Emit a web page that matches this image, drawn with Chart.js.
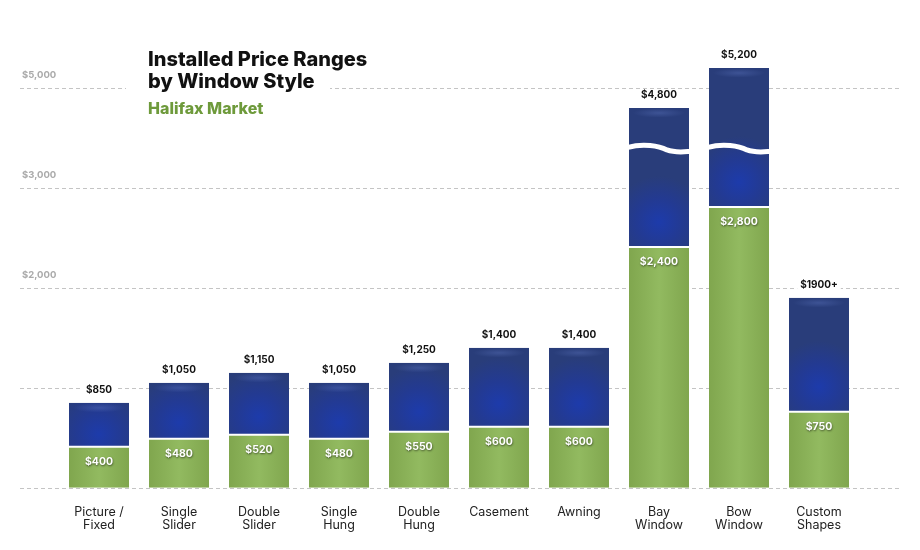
<!DOCTYPE html>
<html>
<head>
<meta charset="utf-8">
<script src="https://cdn.jsdelivr.net/npm/chart.js@4.4.1/dist/chart.umd.min.js"></script>
<style>
  html, body { margin: 0; padding: 0; background: #fff; }
  #wrap { width: 920px; height: 550px; position: relative; }
</style>
</head>
<body>
<div id="wrap"><canvas id="chart"></canvas></div>
<script>
var categories = [['Picture /', 'Fixed'], ['Single', 'Slider'], ['Double', 'Slider'], ['Single', 'Hung'], ['Double', 'Hung'],
    'Casement', 'Awning', ['Bay', 'Window'], ['Bow', 'Window'], ['Custom', 'Shapes']];
var lowPrices = [400, 480, 520, 480, 550, 600, 600, 2400, 2800, 750];
var highPrices = [850, 1050, 1150, 1050, 1250, 1400, 1400, 4800, 5200, 1900];
var lowLabels = ['$400', '$480', '$520', '$480', '$550', '$600', '$600', '$2,400', '$2,800', '$750'];
var highLabels = ['$850', '$1,050', '$1,150', '$1,050', '$1,250', '$1,400', '$1,400', '$4,800', '$5,200', '$1900+'];
var tickValues = [0, 1000, 2000, 3000, 5000];
var tickLabels = ['', '', '$2,000', '$3,000', '$5,000'];

// the axis is broken between 3,000 and 5,000: values past the break are drawn 1,000 lower
var breakAt = 3500;
var breakGap = 1000;
function toAxis(v) {
    return v > breakAt ? v - breakGap : v;
}

var greenData = lowPrices.map(function (v) { return [0, v]; });
var blueData = lowPrices.map(function (v, i) { return [v, toAxis(highPrices[i])]; });

function barBox(c) {
    var chart = c.chart;
    if (!chart.chartArea || !c.raw) return null;
    var x = chart.scales.x.getPixelForValue(c.dataIndex);
    var y0 = chart.scales.y.getPixelForValue(c.raw[0]);
    var y1 = chart.scales.y.getPixelForValue(c.raw[1]);
    return { x: x, top: Math.min(y0, y1), bottom: Math.max(y0, y1) };
}

function blueFill(c) {
    var b = barBox(c);
    if (!b) return '#283d7c';
    var h = b.bottom - b.top;
    var cy = b.bottom - Math.min(h * 0.3, 26);
    var g = c.chart.ctx.createRadialGradient(b.x, cy, 0, b.x, cy, 46);
    g.addColorStop(0, '#1d3bab');
    g.addColorStop(0.5, '#233a92');
    g.addColorStop(1, '#293d7a');
    return g;
}

function greenFill(c) {
    var b = barBox(c);
    if (!b) return '#8cb55a';
    var g = c.chart.ctx.createLinearGradient(b.x - 30, 0, b.x + 30, 0);
    g.addColorStop(0, '#80a64e');
    g.addColorStop(0.5, '#92ba60');
    g.addColorStop(1, '#80a64e');
    return g;
}

var decor = {
    id: 'decor',
    beforeDatasetsDraw: function (chart) {
        var ctx = chart.ctx;
        var y = chart.scales.y;
        ctx.save();
        ctx.strokeStyle = '#c4c4c4';
        ctx.lineWidth = 1;
        ctx.setLineDash([4, 3]);
        tickValues.forEach(function (v, i) {
            var py = Math.round(y.getPixelForValue(toAxis(v))) + 0.5;
            ctx.beginPath();
            ctx.moveTo(20, py);
            ctx.lineTo(900, py);
            ctx.stroke();
        });
        ctx.setLineDash([]);
        ctx.fillStyle = '#aaaaaa';
        ctx.font = 'bold 9.5px Inter, "Noto Sans", sans-serif';
        ctx.textAlign = 'left';
        ctx.textBaseline = 'middle';
        tickValues.forEach(function (v, i) {
            if (!tickLabels[i]) return;
            ctx.fillText(tickLabels[i], 22, y.getPixelForValue(toAxis(v)) - 12.5);
        });
        ctx.restore();
    },
    afterDatasetsDraw: function (chart) {
        var ctx = chart.ctx;
        var blue = chart.getDatasetMeta(1).data;
        var green = chart.getDatasetMeta(0).data;
        ctx.save();
        // soft highlight under the top edge of each range bar
        blue.forEach(function (bar) {
            var left = bar.x - bar.width / 2;
            var g = ctx.createRadialGradient(bar.x, bar.y + 5, 0, bar.x, bar.y + 5, 26);
            g.addColorStop(0, 'rgba(100,125,200,0.35)');
            g.addColorStop(1, 'rgba(100,125,200,0)');
            ctx.fillStyle = g;
            ctx.save();
            ctx.translate(0, bar.y + 5);
            ctx.scale(1, 0.18);
            ctx.translate(0, -(bar.y + 5));
            ctx.fillRect(left, bar.y - 20, bar.width, 50);
            ctx.restore();
        });
        // wave marking the break on the tall bars
        ctx.strokeStyle = '#ffffff';
        ctx.lineWidth = 5;
        highPrices.forEach(function (v, i) {
            if (v <= breakAt) return;
            var bar = blue[i];
            var left = bar.x - bar.width / 2;
            var right = left + bar.width;
            var wy = chart.scales.y.getPixelForValue(3390);
            ctx.beginPath();
            ctx.moveTo(left - 1, wy - 1.5);
            ctx.bezierCurveTo(left + 14, wy - 6, left + 30, wy - 3, left + 38, wy + 1);
            ctx.bezierCurveTo(left + 46, wy + 4, left + 54, wy + 3, right + 1, wy + 2.5);
            ctx.stroke();
        });
        // value labels
        ctx.textAlign = 'center';
        ctx.textBaseline = 'middle';
        ctx.font = 'bold 10px Inter, "Noto Sans", sans-serif';
        blue.forEach(function (bar, i) {
            var w = ctx.measureText(highLabels[i]).width;
            ctx.fillStyle = '#ffffff';
            ctx.fillRect(bar.x - w / 2 - 3, bar.y - 19, w + 6, 12);
            ctx.fillStyle = '#111111';
            ctx.fillText(highLabels[i], bar.x, bar.y - 13);
        });
        ctx.shadowColor = 'rgba(0,0,0,0.55)';
        ctx.shadowBlur = 2;
        ctx.shadowOffsetX = 0.5;
        ctx.shadowOffsetY = 1;
        ctx.fillStyle = '#ffffff';
        ctx.font = 'bold 10.5px Inter, "Noto Sans", sans-serif';
        green.forEach(function (bar, i) {
            ctx.fillText(lowLabels[i], bar.x, bar.y + 14);
        });
        ctx.restore();

        // title block
        ctx.save();
        ctx.fillStyle = '#ffffff';
        ctx.fillRect(126, 42, 204, 78);
        ctx.textAlign = 'left';
        ctx.textBaseline = 'middle';
        ctx.fillStyle = '#111111';
        ctx.font = '800 20px Inter, "Noto Sans", sans-serif';
        ctx.fillText('Installed Price Ranges', 148, 60);
        ctx.fillText('by Window Style', 148, 82);
        ctx.fillStyle = '#6e9a3b';
        ctx.font = '800 16px Inter, "Noto Sans", sans-serif';
        ctx.fillText('Halifax Market', 148, 109);
        ctx.restore();
    }
};

var ctx = document.getElementById('chart').getContext('2d');

var chart = new Chart(ctx, {
    type: 'bar',
    data: {
        labels: categories,
        datasets: [{
            label: 'Low',
            data: greenData,
            backgroundColor: greenFill,
            borderWidth: 0,
            barPercentage: 0.75,
            categoryPercentage: 1
        }, {
            label: 'High',
            data: blueData,
            backgroundColor: blueFill,
            borderColor: '#ffffff',
            borderWidth: { top: 0, left: 0, right: 0, bottom: 2 },
            borderSkipped: false,
            barPercentage: 0.75,
            categoryPercentage: 1
        }]
    },
    options: {
        responsive: true,
        maintainAspectRatio: false,
        animation: false,
        layout: { padding: { left: 59, right: 61, top: 48, bottom: 0 } },
        plugins: {
            legend: { display: false },
            tooltip: { enabled: false }
        },
        scales: {
            x: {
                stacked: true,
                grid: { display: false, drawTicks: false },
                border: { display: false },
                ticks: {
                    padding: 18,
                    color: '#222222',
                    font: { family: 'Inter, "Noto Sans", sans-serif', size: 12.5, lineHeight: 1.05 }
                }
            },
            y: {
                display: false,
                min: 0,
                max: 4400
            }
        }
    },
    plugins: [decor]
});
</script>
</body>
</html>
